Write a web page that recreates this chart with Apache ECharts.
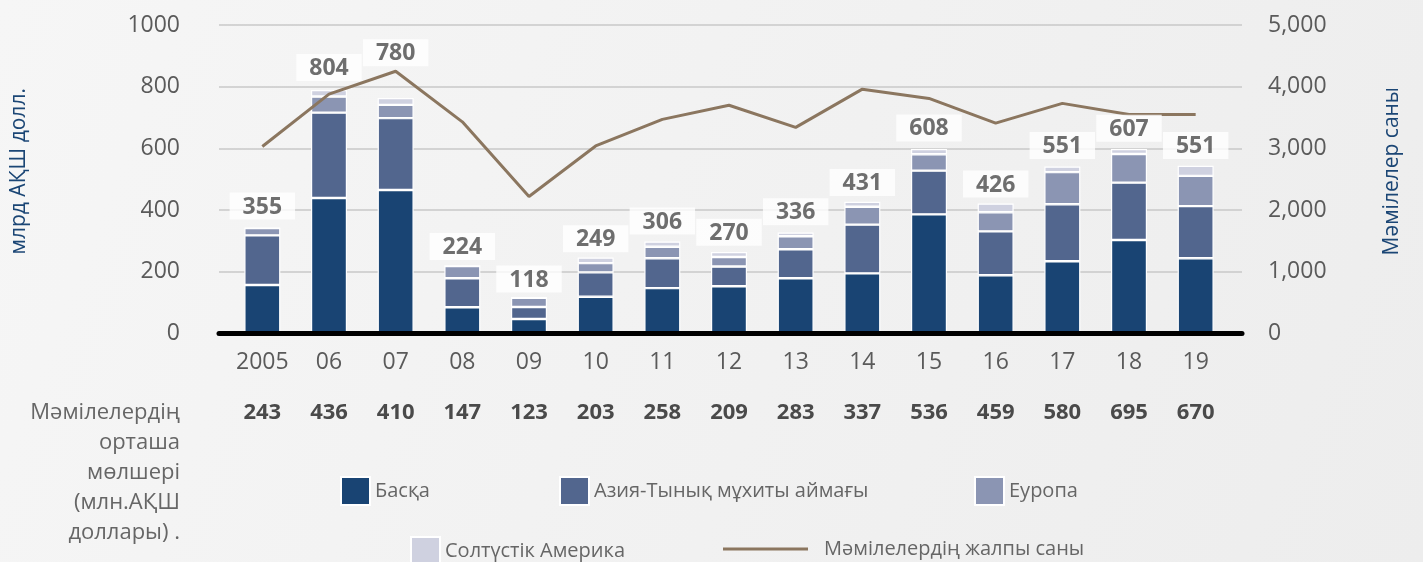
<!DOCTYPE html>
<html>
<head>
<meta charset="UTF-8">
<title>Мәмілелер</title>
<script src="https://cdn.jsdelivr.net/npm/echarts@6/dist/echarts.min.js"></script>
<style>
  body { margin: 0; }
  #main { width: 1423px; height: 562px; }
</style>
</head>
<body>
<div id="main"></div>
<script type="text/javascript">
// categories and values
var years = ['2005', '06', '07', '08', '09', '10', '11', '12', '13', '14', '15', '16', '17', '18', '19'];
var avgDeal = [243, 436, 410, 147, 123, 203, 258, 209, 283, 337, 536, 459, 580, 695, 670];
var baska = [157, 439, 465, 85, 47, 119, 147, 153, 179, 195, 386, 189, 234, 303, 244];
var asia = [161, 277, 233, 94, 39, 79, 97, 64, 94, 158, 142, 142, 185, 186, 169];
var europe = [24, 52, 43, 40, 30, 30, 37, 31, 42, 58, 53, 62, 104, 93, 98];
var northAm = [0, 21, 22, 0, 0, 18, 17, 16, 12, 16, 17, 28, 18, 16, 33];
var totals = [355, 804, 780, 224, 118, 249, 306, 270, 336, 431, 608, 426, 551, 607, 551];
var dealCount = [3030, 3880, 4250, 3430, 2220, 3040, 3470, 3700, 3340, 3960, 3810, 3410, 3730, 3550, 3550];

var FONT = '"Open Sans", "Noto Sans", sans-serif';
var GREY = '#5a5a5a';
var BLUE = '#1b4675';

function barSeries(name, data, color) {
    return {
        name: name,
        type: 'bar',
        stack: 'total',
        barWidth: 36,
        xAxisIndex: 0,
        yAxisIndex: 0,
        itemStyle: { color: color, borderColor: '#fff', borderWidth: 1.2 },
        data: data
    };
}

var legendBase = {
    padding: 0,
    itemWidth: 29,
    itemHeight: 28,
    icon: 'rect',
    textStyle: { fontFamily: FONT, fontSize: 20, color: '#666' }
};
function legendAt(name, left, top, extra) {
    return Object.assign({}, legendBase, { data: [name], left: left, top: top }, extra || {});
}

var chart = echarts.init(document.getElementById('main'));
chart.setOption({
    backgroundColor: new echarts.graphic.LinearGradient(0, 0, 1, 1, [
        { offset: 0, color: '#f6f6f6' },
        { offset: 1, color: '#ededed' }
    ]),
    textStyle: { fontFamily: FONT },
    grid: [
        { left: 229, right: 194, top: 25, bottom: 228.5 },
        { left: 219, right: 181, top: 25, bottom: 228.5 }
    ],
    xAxis: [
        {
            type: 'category', gridIndex: 0, data: years,
            axisLine: { show: false }, axisTick: { show: false },
            axisLabel: { interval: 0, margin: 17, fontSize: 23, color: GREY }
        },
        {
            type: 'category', gridIndex: 0, data: avgDeal, position: 'bottom', offset: 51,
            axisLine: { show: false }, axisTick: { show: false },
            axisLabel: { interval: 0, margin: 17, fontSize: 22, fontWeight: 'bold', color: '#4a4a4a' }
        },
        {
            type: 'value', gridIndex: 1, min: 0, max: 1, z: 5,
            axisLine: { show: true, onZero: false, lineStyle: { color: '#000', width: 5 } },
            axisTick: { show: false }, axisLabel: { show: false }, splitLine: { show: false }
        }
    ],
    yAxis: [
        { type: 'value', gridIndex: 0, min: 0, max: 1000, interval: 200, show: false },
        { type: 'value', gridIndex: 0, min: 0, max: 5000, interval: 1000, show: false },
        {
            type: 'value', gridIndex: 1, min: 0, max: 1000, interval: 200, position: 'left',
            name: 'млрд АҚШ долл.', nameLocation: 'middle', nameRotate: 90, nameGap: 189,
            nameTextStyle: { fontSize: 21, color: BLUE, padding: [0, 0, 0, 16] },
            axisLine: { show: false }, axisTick: { show: false },
            axisLabel: {
                margin: 39, fontSize: 23, color: GREY,
                formatter: function (v) { return String(v); }
            },
            splitLine: { lineStyle: { color: '#c9c9c9', width: 1.5 } }
        },
        {
            type: 'value', gridIndex: 1, min: 0, max: 5000, interval: 1000, position: 'right',
            name: 'Мәмілелер саны', nameLocation: 'middle', nameRotate: 90, nameGap: 140,
            nameTextStyle: { fontSize: 21, color: BLUE, padding: [0, 0, 0, 16] },
            axisLine: { show: false }, axisTick: { show: false },
            axisLabel: {
                margin: 26, fontSize: 23, color: GREY,
                formatter: function (v) { return v.toLocaleString('en-US'); }
            },
            splitLine: { show: false }
        }
    ],
    legend: [
        legendAt('Басқа', 340, 476),
        legendAt('Азия-Тынық мұхиты аймағы', 559, 476),
        legendAt('Еуропа', 974, 476),
        legendAt('Солтүстік Америка', 410, 536),
        legendAt('Мәмілелердің жалпы саны', 723, 539, {
            itemWidth: 85, itemHeight: 3, icon: 'rect',
            textStyle: { fontFamily: FONT, fontSize: 20, color: '#666', padding: [0, 0, 0, 11] }
        })
    ],
    graphic: [{
        type: 'text',
        x: 180, y: 398,
        style: {
            text: 'Мәмілелердің\nорташа\nмөлшері\n(млн.АҚШ\nдоллары) .',
            align: 'right', verticalAlign: 'top',
            font: '22px ' + FONT, lineHeight: 30, fill: '#666'
        }
    }],
    series: [
        barSeries('Басқа', baska, '#194473'),
        barSeries('Азия-Тынық мұхиты аймағы', asia, '#52668e'),
        barSeries('Еуропа', europe, '#8b95b3'),
        barSeries('Солтүстік Америка', northAm, '#cfd1e0'),
        {
            name: 'Мәмілелердің жалпы саны',
            type: 'line',
            xAxisIndex: 0,
            yAxisIndex: 1,
            symbol: 'none',
            z: 3,
            lineStyle: { color: '#8b765f', width: 3 },
            itemStyle: { color: '#8b765f' },
            data: dealCount
        },
        {
            name: 'totals',
            type: 'scatter',
            xAxisIndex: 0,
            yAxisIndex: 0,
            symbolSize: 1,
            z: 4,
            itemStyle: { color: 'rgba(0,0,0,0)' },
            label: {
                show: true, position: 'top', distance: 4,
                fontSize: 23, fontWeight: 'bold', color: '#4a4a4a',
                backgroundColor: '#fff', padding: [3, 13, 1, 13]
            },
            data: totals.map(function (v, i) {
                return i === 2 ? { value: v, label: { offset: [0, -22] } } : v;
            })
        }
    ]
});
</script>
</body>
</html>
